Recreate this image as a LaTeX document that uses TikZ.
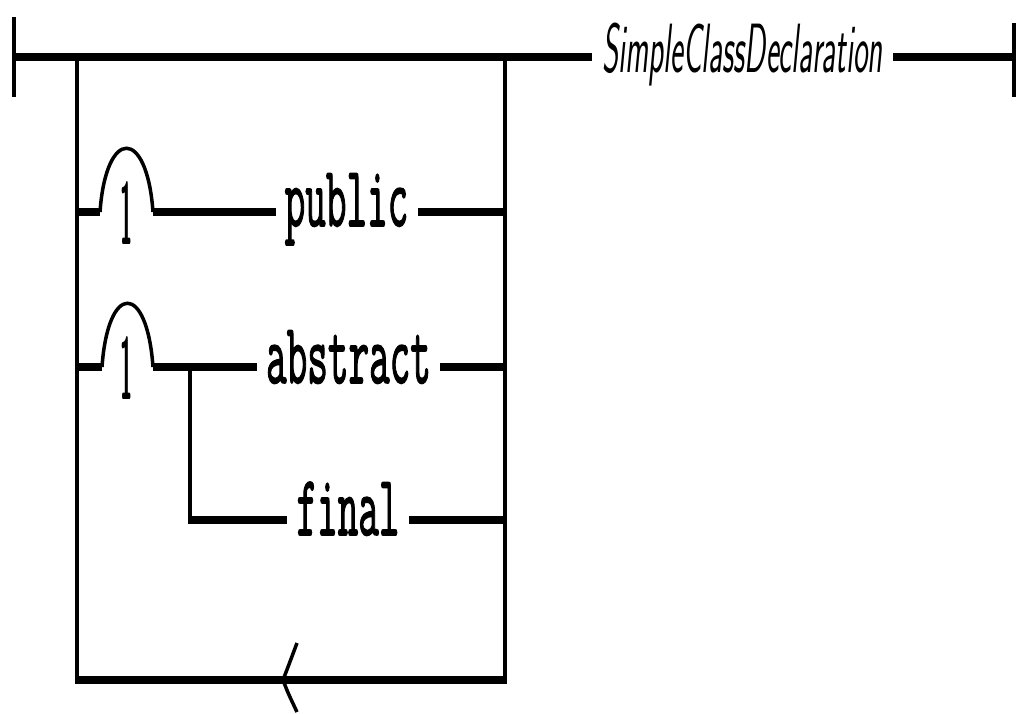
\documentclass[tikz,border=0pt]{standalone}
\usepackage{fontspec}
\usepackage{graphicx}
\usepackage{tikz}
\usetikzlibrary{positioning}
\newfontfamily\kwfont{Latin Modern Mono}[FakeBold=2]

\begin{document}
\begin{tikzpicture}[
    x=1pt, y=-1pt,
    track/.style={line width=8pt, black},
    rail/.style={line width=3.5pt, black},
    hump/.style={line width=3.5pt, black},
    keyword/.style={inner xsep=9pt, inner ysep=0pt, anchor=base, font=\fontsize{40}{40}\selectfont\kwfont},
    optmark/.style={inner sep=0pt, anchor=base, font=\fontsize{22}{22}\selectfont\sffamily\bfseries},
    prodname/.style={inner xsep=10pt, inner ysep=0pt, anchor=base, font=\fontsize{31}{31}\selectfont\sffamily\itshape},
]
\useasboundingbox (0,0) rectangle (1016,713);

% Ends of the main line
\coordinate (start) at (14,57);
\coordinate (stop) at (1014,57);
\draw[rail] (start) ++(0,-40) -- ++(0,80);
\draw[rail] (stop) ++(0,-34) -- ++(0,74);

% Production name
\node[prodname] (decl) at (742.5,72) {\scalebox{1}[2.25]{SimpleClassDeclaration}};

% Loop frame
\coordinate (lt) at (77,57);
\coordinate (rt) at (505,57);
\coordinate (lb) at (77,680);
\coordinate (rb) at (505,680);

% Keywords
\node[keyword] (public) at (346.5,226) {\scalebox{1}[2.15]{public}};
\node[keyword] (abstract) at (348.5,383) {\scalebox{1}[2.15]{abstract}};
\node[keyword] (final) at (348,535) {\scalebox{1}[2.15]{final}};

% Row coordinates and humps
\coordinate (r1) at (77,212);
\coordinate (h1a) at (100,212);
\coordinate (h1b) at (153,212);
\coordinate (r2) at (77,367);
\coordinate (h2a) at (102,367);
\coordinate (h2b) at (153,367);
\coordinate (br) at (190,367);
\coordinate (r3) at (188,520);

% Repeat marks
\node[optmark] (one1) at (127,244) {\scalebox{1}[4]{1}};
\node[optmark] (one2) at (127,399) {\scalebox{1}[4]{1}};

% Main line
\draw[track] (start) -- (start -| decl.west);
\draw[track] (decl.east |- stop) -- (stop);

% Frame
\draw[rail] (lt) -- ([yshift=4pt]lb);
\draw[rail] (rt) -- ([yshift=4pt]rb);
\draw[track] ([xshift=-2pt]lb) -- ([xshift=2pt]rb);

% Back arrow
\coordinate (back) at (283,680);
\draw[rail] ([shift={(14,-37)}]back) .. controls ([shift={(5,-13)}]back) .. (back)
    .. controls ([shift={(5,13)}]back) .. ([shift={(14,32)}]back);

% Row 1
\draw[track] (r1) -- (h1a);
\draw[hump] (h1a) .. controls +(6,-85) and +(-6,-85) .. (h1b);
\draw[track] (h1b) -- (h1b -| public.west);
\draw[track] (public.east |- h1b) -- (h1b -| rt);

% Row 2
\draw[track] (r2) -- (h2a);
\draw[hump] (h2a) .. controls +(6,-85) and +(-6,-85) .. (h2b);
\draw[track] (h2b) -- (h2b -| abstract.west);
\draw[track] (abstract.east |- h2b) -- (h2b -| rt);

% Row 3
\draw[rail] (br) -- ([yshift=4pt]br |- r3);
\draw[track] (r3) -- (r3 -| final.west);
\draw[track] (final.east |- r3) -- (r3 -| rt);

\end{tikzpicture}
\end{document}
